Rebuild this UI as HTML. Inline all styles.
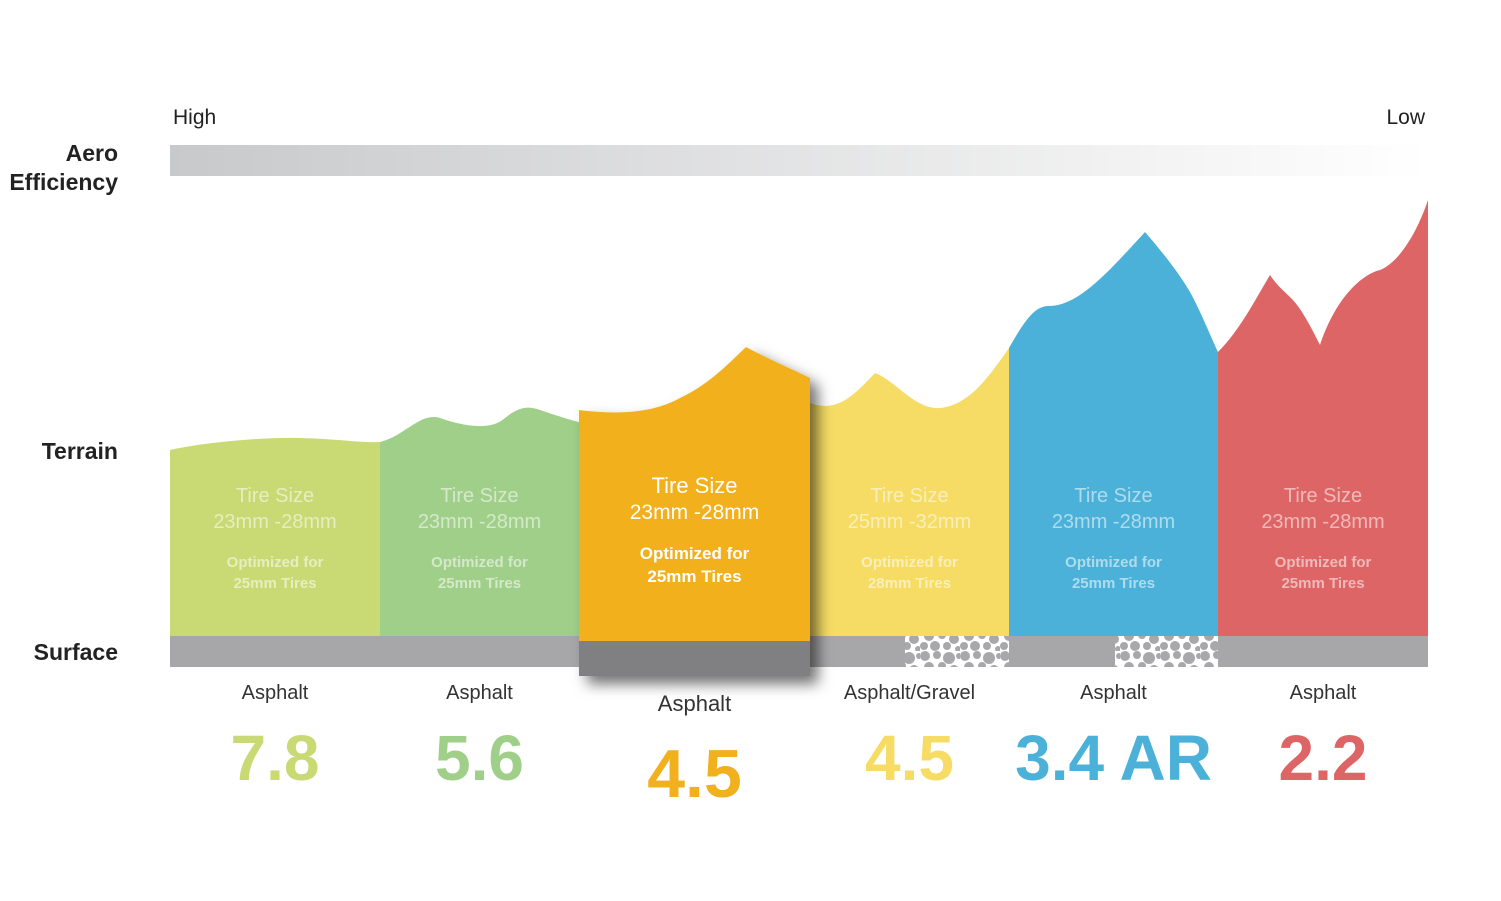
<!DOCTYPE html>
<html><head><meta charset="utf-8"><style>
html,body{margin:0;padding:0;background:#fff;}
svg{display:block;}
.cond{font-family:"Liberation Sans Narrow","Liberation Sans",sans-serif;}
.reg{font-family:"Liberation Sans",sans-serif;}
</style></head><body>
<svg id="chart" width="1501" height="901" viewBox="0 0 1501 901" xmlns="http://www.w3.org/2000/svg">
<defs>
<linearGradient id="aeroGrad" x1="0" x2="1" y1="0" y2="0">
<stop offset="0" stop-color="#c8c9cb"/><stop offset="1" stop-color="#ffffff"/>
</linearGradient>
<pattern id="gravel" width="40" height="31" patternUnits="userSpaceOnUse">
<rect width="40" height="31" fill="#fff"/>
<g fill="#a8a8aa">
<circle cx="5" cy="5" r="5"/><circle cx="17" cy="4" r="4"/><circle cx="29" cy="7" r="6"/><circle cx="9" cy="16" r="5"/><circle cx="22" cy="15" r="4"/><circle cx="34" cy="19" r="5"/><circle cx="4" cy="26" r="4"/><circle cx="15" cy="26" r="5"/><circle cx="27" cy="26" r="4"/><circle cx="38" cy="29" r="3"/><circle cx="39" cy="5" r="3"/>
</g>
</pattern>
<filter id="shadow" x="-20%" y="-20%" width="150%" height="150%">
<feDropShadow dx="8" dy="8" stdDeviation="7" flood-color="#000" flood-opacity="0.55"/>
</filter>
</defs>
<text class="reg" x="173" y="124" font-size="21" fill="#222">High</text>
<text class="reg" x="1425" y="124" font-size="21" fill="#222" text-anchor="end">Low</text>
<rect x="170" y="145" width="1258" height="31" fill="url(#aeroGrad)"/>
<text class="cond" x="118" y="161" font-size="23" font-weight="bold" fill="#222" text-anchor="end">Aero</text>
<text class="cond" x="118" y="190" font-size="23" font-weight="bold" fill="#222" text-anchor="end">Efficiency</text>
<text class="cond" x="118" y="459" font-size="23" font-weight="bold" fill="#222" text-anchor="end">Terrain</text>
<text class="cond" x="118" y="660" font-size="23" font-weight="bold" fill="#222" text-anchor="end">Surface</text>
<rect x="170" y="636" width="1258" height="31" fill="#a7a7a9"/>
<rect x="905" y="636" width="104" height="31" fill="url(#gravel)"/>
<rect x="1115" y="636" width="103" height="31" fill="url(#gravel)"/>
<g id="panels"></g>
<g id="labels"></g>
</svg>
<script>
const categories = ["7.8","5.6","4.5","4.5 AR","3.4","2.2"];
const scores = [7.8, 5.6, 4.5, 4.5, 3.4, 2.2];
const scoreSuffix = ["","","",""," AR",""].slice(1).concat([""]);
const tireSizes = ["23mm -28mm","23mm -28mm","23mm -28mm","25mm -32mm","23mm -28mm","23mm -28mm"];
const optimized = ["25mm Tires","25mm Tires","25mm Tires","28mm Tires","25mm Tires","25mm Tires"];
const surfaces = ["Asphalt","Asphalt","Asphalt","Asphalt/Gravel","Asphalt","Asphalt"];
const suffixes = ["","","",""," AR",""];

const colors = ["#c9d973","#a0cf8a","#f1b01e","#f6dc64","#4bb1d8","#de6565"];
const edges = [170,380,579,810,1009,1218,1428];
const tops = [
 "M170,450 C200,443 260,437 300,438 C340,439 360,443 380,442",
 "M380,442 C405,436 420,412 440,418 C460,425 490,432 505,418 C515,410 525,404 540,410 C555,415 570,420 579,422",
 "M579,410 C610,414 650,415 680,398 C710,384 730,362 746,347 C770,360 790,368 810,378",
 "M810,403 C835,412 850,400 875,373 C895,380 915,410 940,408 C970,405 990,375 1009,348",
 "M1009,348 C1025,320 1035,305 1050,306 C1080,305 1110,270 1145,232 C1165,255 1180,275 1190,292 C1200,310 1210,335 1218,352",
 "M1218,352 C1240,330 1255,300 1270,275 C1280,290 1290,295 1297,305 C1305,315 1315,335 1320,345 C1335,300 1360,275 1380,270 C1400,262 1418,230 1428,200"
];
const ns = "http://www.w3.org/2000/svg";
const panels = document.getElementById('panels');
const labels = document.getElementById('labels');
function mk(tag, attrs, parent){const e=document.createElementNS(ns,tag);for(const k in attrs)e.setAttribute(k,attrs[k]);parent.appendChild(e);return e;}
function txt(parent,x,y,s,cls,size,fill,weight,op){const t=mk('text',{x:x,y:y,'text-anchor':'middle','font-size':size,fill:fill,class:cls},parent);if(weight)t.setAttribute('font-weight',weight);if(op)t.setAttribute('fill-opacity',op);t.textContent=s;return t;}

const order=[0,1,3,4,5,2];
order.forEach(i=>{
  const x0=edges[i], x1=edges[i+1], cx=(x0+x1)/2, hi=(i===2);
  const g=mk('g',{},panels);
  
  
  if(hi){
    g.setAttribute('filter','url(#shadow)');
    const p=mk('path',{d:tops[i]+` L${x1},641 L${x0},641 Z`,fill:colors[i]},g);
    
    
    const r=mk('rect',{x:x0,y:641,width:x1-x0,height:35,fill:'#808083'},g);
    
    
  } else {
    const p=mk('path',{d:tops[i]+` L${x1},636 L${x0},636 Z`,fill:colors[i]},g);
    
    
  }
  const op = hi?null:'0.55';
  const dy = hi?-9:0;
  let t;
  t=txt(g,cx,502+dy,'Tire Size','cond',hi?22:20,'#fff',null,op);
  
  
  t=txt(g,cx,528+dy,tireSizes[i],'reg',hi?21:20,'#fff',null,op);
  
  
  t=txt(g,cx,567+dy+ (hi?1:0),'Optimized for','reg',hi?17:15,'#fff','bold',op);
  
  
  t=txt(g,cx,588+dy+(hi?3:0),optimized[i],'reg',hi?17:15,'#fff','bold',op);
  
  
});

for(let i=0;i<6;i++){
  const cx=(edges[i]+edges[i+1])/2, hi=(i===2);
  let t=txt(labels,cx,hi?711:699,surfaces[i],'reg',hi?22:20,'#333');
  
  
  t=txt(labels,cx,hi?797:780,scores[i].toFixed(1)+suffixes[i],'cond',hi?68:64,colors[i],'bold');
  
  
}
</script>
</body></html>
